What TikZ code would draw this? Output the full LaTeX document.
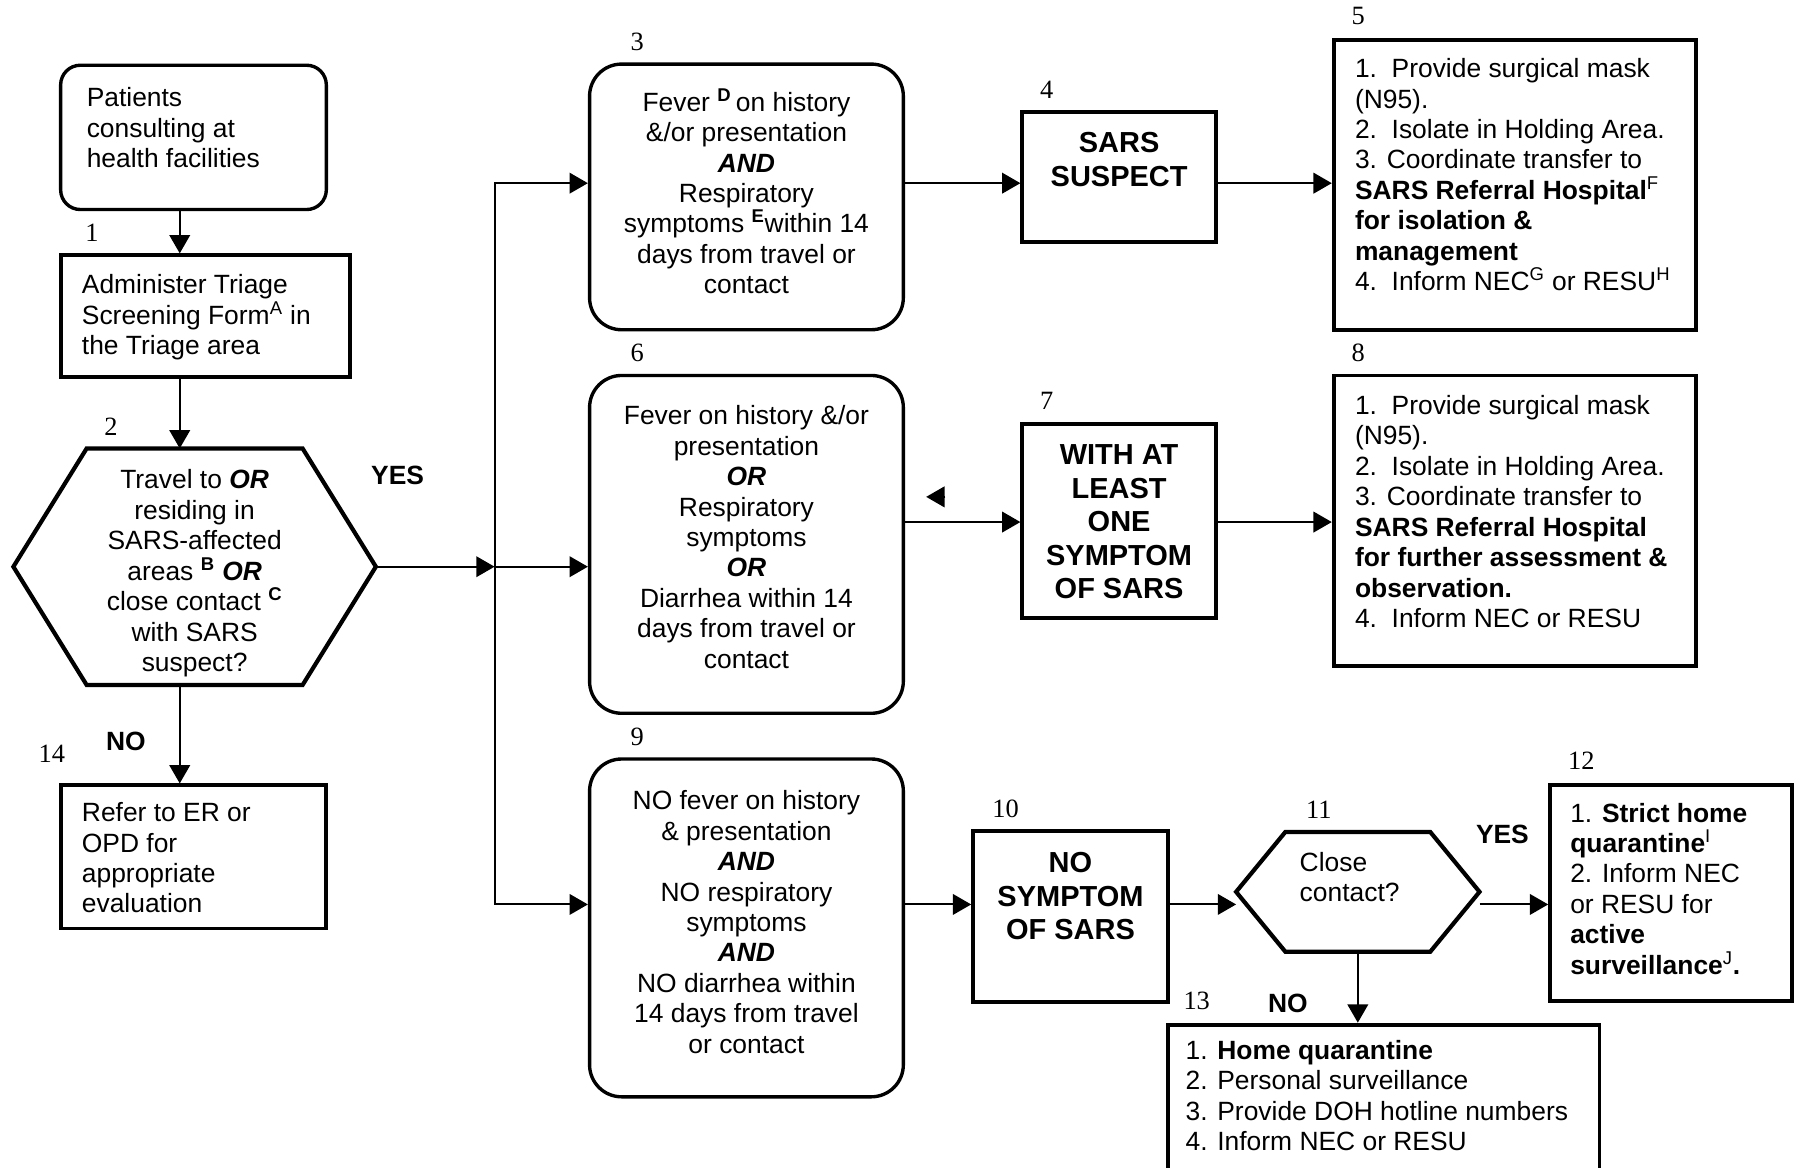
\documentclass[tikz,border=0pt]{standalone}
\usepackage{fontspec}
\setmainfont{Liberation Sans}
\newfontfamily\numfont{Liberation Serif}
\usetikzlibrary{arrows.meta,calc}

\begin{document}
\begin{tikzpicture}[x=0.025cm,y=-0.025cm,
every node/.style={inner sep=0,font=\fontsize{16.4}{18.9}\selectfont},
rbox/.style={draw,rounded corners=0.7cm,line width=2.1pt},
sbox/.style={draw,line width=2.4pt},
hexa/.style={draw=none},
hexline/.style={line width=2.6pt,line join=miter},
num/.style={font=\numfont\fontsize{16.4}{18.9}\selectfont},
yn/.style={font=\fontsize{16.4}{18.9}\selectfont\bfseries},
ltxt/.style={align=left},
ctxt/.style={align=center},
big/.style={align=center,font=\fontsize{18}{20.8}\selectfont\bfseries},
arr/.style={-{Triangle[length=0.4cm,width=0.45cm]},line width=1.2pt}]

\useasboundingbox (0,0) rectangle (1567,1019.5);
\clip (0,0) rectangle (1567,1019.5);

% Nodes
\node[rbox,rounded corners=0.43cm,minimum width=5.8cm,minimum height=3.15cm] (pat) at (169,120) {};
\node[sbox,minimum width=6.325cm,minimum height=2.65cm] (adm) at (179.5,276) {};
\node[hexa,minimum width=7.9cm,minimum height=5.15cm] (trav) at (170,495) {};
\node[sbox,minimum width=5.8cm,minimum height=3.125cm] (ref) at (169,748.5) {};

\node[rbox,minimum width=6.85cm,minimum height=5.8cm] (fev) at (652,172) {};
\node[sbox,minimum width=4.225cm,minimum height=2.825cm] (susp) at (977.5,154.5) {};
\node[sbox,minimum width=7.9cm,minimum height=6.325cm] (iso) at (1323,161.5) {};

\node[rbox,minimum width=6.85cm,minimum height=7.375cm] (any) at (652,475.5) {};
\node[sbox,minimum width=4.225cm,minimum height=4.25cm] (one) at (977.5,455) {};
\node[sbox,minimum width=7.9cm,minimum height=6.35cm] (obs) at (1323,455) {};

\node[rbox,minimum width=6.85cm,minimum height=7.375cm] (none) at (652,810.5) {};
\node[sbox,minimum width=4.25cm,minimum height=3.725cm] (nosym) at (935,800.5) {};
\node[hexa,minimum width=5.3cm,minimum height=2.6cm] (close) at (1186,779) {};
\node[sbox,minimum width=5.275cm,minimum height=4.7cm] (strict) at (1459.5,780) {};
\node[sbox,minimum width=9.425cm,minimum height=3.75cm] (home) at (1208.5,970) {};

% hexagons
\draw[hexline] (trav.west) -- ([xshift=1.6cm]trav.north west) -- ([xshift=-1.6cm]trav.north east) -- (trav.east) -- ([xshift=-1.6cm]trav.south east) -- ([xshift=1.6cm]trav.south west) -- cycle;
\draw[hexline] (close.west) -- ([xshift=1.075cm]close.north west) -- ([xshift=-1.075cm]close.north east) -- (close.east) -- ([xshift=-1.075cm]close.south east) -- ([xshift=1.075cm]close.south west) -- cycle;

% texts
\node[ltxt,anchor=north west,xshift=0.6cm,yshift=-0.52cm] at (pat.north west) (tpat) {Patients\\consulting at\\health facilities};
\node[ltxt,anchor=north west,xshift=0.5cm,yshift=-0.46cm] at (adm.north west) (tadm) {Administer Triage\\Screening Form\textsuperscript{A} in\\the Triage area};
\node[ctxt,anchor=north,yshift=-0.46cm] at (trav.north) (ttrav) {Travel to \textbf{\textit{OR}}\\residing in\\SARS-affected\\areas \textsuperscript{\textbf{B}} \textbf{\textit{OR}}\\close contact \textsuperscript{\textbf{C}}\\with SARS\\suspect?};
\node[ltxt,anchor=north west,xshift=0.5cm,yshift=-0.41cm] at (ref.north west) (tref) {Refer to ER or\\OPD for\\appropriate\\evaluation};

\node[ctxt,anchor=north,yshift=-0.56cm] at (fev.north) (tfev) {Fever \textsuperscript{\textbf{D}}\,on history\\\&/or presentation\\\textbf{\textit{AND}}\\Respiratory\\symptoms \textsuperscript{\textbf{E}}within 14\\days from travel or\\contact};
\node[big,anchor=north,yshift=-0.48cm] at (susp.north) (tsusp) {SARS\\SUSPECT};
\node[ltxt,anchor=north west,xshift=0.5cm,yshift=-0.44cm] at (iso.north west) (tiso) {1.\ \ Provide surgical mask\\(N95).\\2.\ \ Isolate in Holding Area.\\3. Coordinate transfer to\\\textbf{SARS Referral Hospital}\textsuperscript{F}\\\textbf{for isolation \&}\\\textbf{management}\\4.\ \ Inform NEC\textsuperscript{G} or RESU\textsuperscript{H}};

\node[ctxt,anchor=north,yshift=-0.69cm] at (any.north) (tany) {Fever on history \&/or\\presentation\\\textbf{\textit{OR}}\\Respiratory\\symptoms\\\textbf{\textit{OR}}\\Diarrhea within 14\\days from travel or\\contact};
\node[big,anchor=north,yshift=-0.5cm] at (one.north) (tone) {WITH AT\\LEAST\\ONE\\SYMPTOM\\OF SARS};
\node[ltxt,anchor=north west,xshift=0.5cm,yshift=-0.47cm] at (obs.north west) (tobs) {1.\ \ Provide surgical mask\\(N95).\\2.\ \ Isolate in Holding Area.\\3. Coordinate transfer to\\\textbf{SARS Referral Hospital}\\\textbf{for further assessment \&}\\\textbf{observation.}\\4.\ \ Inform NEC or RESU};

\node[ctxt,anchor=north,yshift=-0.72cm] at (none.north) (tnone) {NO fever on history\\\& presentation\\\textbf{\textit{AND}}\\NO respiratory\\symptoms\\\textbf{\textit{AND}}\\NO diarrhea within\\14 days from travel\\or contact};
\node[big,anchor=north,yshift=-0.5cm] at (nosym.north) (tnosym) {NO\\SYMPTOM\\OF SARS};
\node[ltxt,anchor=north west,xshift=-1.275cm,yshift=-0.43cm] at (close.north) (tclose) {Close\\contact?};
\node[ltxt,anchor=north west,xshift=0.475cm,yshift=-0.42cm] at (strict.north west) (tstrict) {1. \textbf{Strict home}\\\textbf{quarantine}\textsuperscript{I}\\2. Inform NEC\\or RESU for\\\textbf{active}\\\textbf{surveillance}\textsuperscript{J}\textbf{.}};
\node[ltxt,anchor=north west,xshift=0.425cm,yshift=-0.38cm] at (home.north west) (thome) {1. \textbf{Home quarantine}\\2. Personal surveillance\\3. Provide DOH hotline numbers\\4. Inform NEC or RESU};

% numbers
\node[num,xshift=0.725cm,yshift=0.45cm] at (adm.north west) (n1) {1};
\node[num,xshift=-1.825cm,yshift=0.475cm] at (trav.north) (n2) {2};
\node[num,xshift=1.075cm,yshift=0.45cm] at (fev.north west) (n3) {3};
\node[num,xshift=0.575cm,yshift=0.45cm] at (susp.north west) (n4) {4};
\node[num,xshift=0.575cm,yshift=0.475cm] at (iso.north west) (n5) {5};
\node[num,xshift=1.075cm,yshift=0.45cm] at (any.north west) (n6) {6};
\node[num,xshift=0.575cm,yshift=0.45cm] at (one.north west) (n7) {7};
\node[num,xshift=0.575cm,yshift=0.45cm] at (obs.north west) (n8) {8};
\node[num,xshift=1.075cm,yshift=0.45cm] at (none.north west) (n9) {9};
\node[num,xshift=0.75cm,yshift=0.45cm] at (nosym.north west) (n10) {10};
\node[num,xshift=-0.85cm,yshift=0.475cm] at (close.north) (n11) {11};
\node[num,xshift=0.725cm,yshift=0.5cm] at (strict.north west) (n12) {12};
\node[num,xshift=0.675cm,yshift=0.475cm] at (home.north west) (n13) {13};
\node[num,xshift=-0.15cm,yshift=0.65cm] at (ref.north west) (n14) {14};

% answers
\node[yn,xshift=0.475cm,yshift=2cm] at (trav.east) (yes1) {YES};
\node[yn,xshift=-1.5cm,yshift=-1.225cm] at (trav.south) (no1) {NO};
\node[yn,xshift=0.5cm,yshift=1.25cm] at (close.east) (yes2) {YES};
\node[yn,xshift=-1.525cm,yshift=-1.125cm] at (close.south) (no2) {NO};

\coordinate (col) at (157,0);
\coordinate (trunk) at (432,0);
\coordinate (row1) at (0,160);
\coordinate (row2) at (0,456);
\coordinate (row3) at (0,790);
\coordinate (stray) at (809,434);

%arcs
\path (pat.south -| col) edge[arr] (adm.north -| col);
\path (adm.south -| col) edge[arr] (trav.north -| col);
\path (trav.south -| col) edge[arr] (ref.north -| col);
\path (trav.east) edge[arr] (trav.east -| trunk);
\draw[line width=1.2pt,line cap=rect] (trunk |- row1) -- (trunk |- row3);
\path (trunk |- row1) edge[arr] (fev.west |- row1);
\path (trav.east -| trunk) edge[arr] (any.west |- trav.east);
\path (trunk |- row3) edge[arr] (none.west |- row3);

\path (fev.east |- row1) edge[arr] (susp.west |- row1);
\path (susp.east |- row1) edge[arr] (iso.west |- row1);
\path (any.east |- row2) edge[arr] (one.west |- row2);
\path (one.east |- row2) edge[arr] (obs.west |- row2);
\path (none.east |- row3) edge[arr] (nosym.west |- row3);
\path (nosym.east |- row3) edge[arr] (close.west |- row3);
\path (close.east |- row3) edge[arr] (strict.west |- row3);
\path (close.south) edge[arr] (close.south |- home.north);

\path ([xshift=0.42cm]stray) edge[arr] (stray);

\end{tikzpicture}
\end{document}
